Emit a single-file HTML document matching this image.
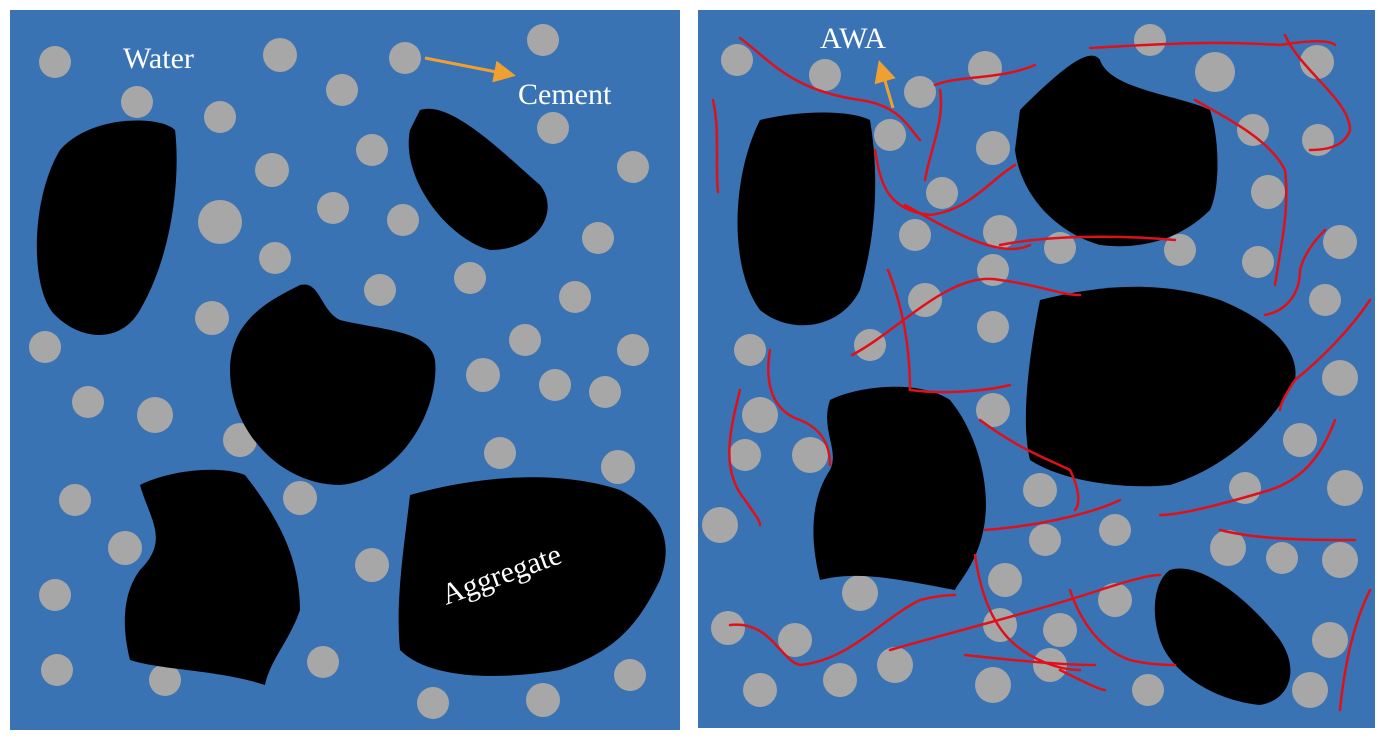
<!DOCTYPE html>
<html><head><meta charset="utf-8"><style>
html,body{margin:0;padding:0;background:#fff;}
svg{display:block;}
text{font-family:"Liberation Serif",serif;fill:#fff;}
</style></head><body>
<svg width="1385" height="741" viewBox="0 0 1385 741" xmlns="http://www.w3.org/2000/svg">
<defs><marker id="ar" markerWidth="8" markerHeight="8" refX="4" refY="4" orient="auto" markerUnits="userSpaceOnUse" viewBox="0 0 8 8"><path d="M0,0 L8,4 L0,8Z" fill="#f0a030"/></marker>
<marker id="ah" markerWidth="22" markerHeight="22" refX="18" refY="11" orient="auto" markerUnits="userSpaceOnUse"><path d="M0,0 L22,11 L0,22Z" fill="#f0a030"/></marker></defs>
<rect x="10" y="10" width="670" height="720" fill="#3a73b3"/>
<rect x="698" y="10" width="677" height="718" fill="#3a73b3"/>
<g fill="#a7a7a7">
<circle cx="55" cy="62" r="16"/><circle cx="280" cy="55" r="17"/><circle cx="405" cy="58" r="16"/><circle cx="543" cy="40" r="16"/><circle cx="137" cy="102" r="16"/><circle cx="220" cy="117" r="16"/><circle cx="342" cy="90" r="16"/><circle cx="553" cy="128" r="16"/><circle cx="372" cy="150" r="16"/><circle cx="272" cy="170" r="17"/><circle cx="633" cy="167" r="16"/><circle cx="220" cy="222" r="22"/><circle cx="333" cy="208" r="16"/><circle cx="403" cy="220" r="16"/><circle cx="598" cy="238" r="16"/><circle cx="275" cy="258" r="16"/><circle cx="380" cy="290" r="16"/><circle cx="470" cy="278" r="16"/><circle cx="575" cy="297" r="16"/><circle cx="212" cy="318" r="17"/><circle cx="45" cy="347" r="16"/><circle cx="525" cy="340" r="16"/><circle cx="633" cy="350" r="16"/><circle cx="483" cy="375" r="17"/><circle cx="555" cy="385" r="16"/><circle cx="605" cy="392" r="16"/><circle cx="88" cy="402" r="16"/><circle cx="155" cy="415" r="18"/><circle cx="240" cy="440" r="17"/><circle cx="500" cy="453" r="16"/><circle cx="618" cy="467" r="17"/><circle cx="75" cy="500" r="16"/><circle cx="300" cy="498" r="17"/><circle cx="125" cy="548" r="17"/><circle cx="372" cy="565" r="17"/><circle cx="55" cy="595" r="16"/><circle cx="57" cy="670" r="16"/><circle cx="165" cy="680" r="16"/><circle cx="323" cy="662" r="16"/><circle cx="433" cy="703" r="16"/><circle cx="543" cy="700" r="17"/><circle cx="630" cy="675" r="16"/>
<circle cx="737" cy="60" r="16"/><circle cx="825" cy="75" r="16"/><circle cx="920" cy="92" r="16"/><circle cx="985" cy="68" r="17"/><circle cx="1150" cy="40" r="16"/><circle cx="1215" cy="72" r="20"/><circle cx="1317" cy="62" r="17"/><circle cx="890" cy="135" r="16"/><circle cx="993" cy="148" r="17"/><circle cx="1253" cy="130" r="16"/><circle cx="1318" cy="140" r="16"/><circle cx="942" cy="193" r="16"/><circle cx="1268" cy="192" r="17"/><circle cx="915" cy="235" r="16"/><circle cx="1000" cy="232" r="17"/><circle cx="1060" cy="248" r="16"/><circle cx="1180" cy="250" r="16"/><circle cx="1258" cy="262" r="16"/><circle cx="1340" cy="242" r="17"/><circle cx="993" cy="270" r="16"/><circle cx="925" cy="300" r="17"/><circle cx="1325" cy="300" r="16"/><circle cx="870" cy="345" r="16"/><circle cx="750" cy="350" r="16"/><circle cx="993" cy="327" r="16"/><circle cx="1340" cy="378" r="18"/><circle cx="993" cy="410" r="17"/><circle cx="760" cy="415" r="18"/><circle cx="745" cy="455" r="16"/><circle cx="810" cy="455" r="18"/><circle cx="1300" cy="440" r="17"/><circle cx="1040" cy="490" r="17"/><circle cx="1245" cy="488" r="16"/><circle cx="1345" cy="488" r="18"/><circle cx="720" cy="525" r="18"/><circle cx="1115" cy="530" r="16"/><circle cx="1228" cy="548" r="18"/><circle cx="1282" cy="558" r="16"/><circle cx="1340" cy="560" r="18"/><circle cx="1045" cy="540" r="16"/><circle cx="860" cy="593" r="18"/><circle cx="1005" cy="580" r="17"/><circle cx="1115" cy="600" r="17"/><circle cx="728" cy="628" r="17"/><circle cx="795" cy="640" r="17"/><circle cx="1000" cy="625" r="17"/><circle cx="1060" cy="630" r="17"/><circle cx="1330" cy="640" r="18"/><circle cx="895" cy="665" r="18"/><circle cx="1050" cy="665" r="17"/><circle cx="760" cy="690" r="17"/><circle cx="840" cy="680" r="17"/><circle cx="993" cy="685" r="18"/><circle cx="1148" cy="690" r="16"/><circle cx="1310" cy="690" r="18"/>
</g>
<g fill="#000">
<path d="M60,150 C90,115 160,115 175,130 C180,170 175,250 140,310 C120,345 80,340 55,315 C30,290 30,200 60,150Z"/>
<path d="M420,110 C450,100 500,150 540,185 C560,210 540,250 490,250 C450,240 400,180 410,130Z"/>
<path d="M300,285 C320,280 320,310 340,320 C380,330 430,330 435,360 C440,410 400,480 340,485 C280,485 230,430 230,370 C230,320 270,300 300,285Z"/>
<path d="M140,485 C170,470 220,465 245,475 C280,520 300,560 300,610 C290,640 270,660 265,685 C220,670 160,670 130,660 C120,620 125,590 140,570 C170,540 150,520 140,485Z"/>
<path d="M410,495 C480,475 560,470 620,490 C660,510 675,540 660,580 C640,620 620,650 560,670 C500,680 430,680 400,650 C395,600 405,540 410,495Z"/>
<path d="M760,120 C800,110 850,110 870,120 C880,180 875,240 860,290 C840,330 790,335 760,310 C730,270 730,180 760,120Z"/>
<path d="M1020,110 C1060,70 1090,45 1100,60 C1110,90 1180,95 1210,110 C1220,140 1220,190 1210,210 C1180,240 1140,250 1100,245 C1050,230 1020,190 1015,150Z"/>
<path d="M1040,300 C1100,285 1160,280 1220,300 C1270,320 1300,350 1295,380 C1270,430 1220,470 1170,485 C1120,490 1060,480 1030,460 C1020,420 1030,350 1040,300Z"/>
<path d="M830,400 C860,385 920,380 950,400 C975,430 990,480 985,520 C980,560 960,580 955,590 C900,580 860,570 820,580 C810,540 810,500 830,470 C840,450 820,430 830,400Z"/>
<path d="M1170,570 C1200,560 1250,600 1280,640 C1300,670 1290,700 1260,705 C1210,700 1170,670 1160,640 C1150,610 1155,580 1170,570Z"/>
</g>
<g fill="none" stroke="#e0101a" stroke-width="2.5" stroke-linecap="round">
<path d="M740,38 C770,60 790,90 860,100 C900,105 910,130 920,140"/>
<path d="M713,100 C720,130 715,170 718,192"/>
<path d="M875,150 C880,180 885,210 930,215 C970,210 990,180 1015,165"/>
<path d="M935,85 C960,75 1000,80 1035,65"/>
<path d="M1090,48 C1150,45 1200,40 1280,45 C1310,40 1330,40 1335,45"/>
<path d="M1285,35 C1300,70 1350,100 1350,130 C1345,145 1330,150 1310,150"/>
<path d="M1195,100 C1230,120 1270,140 1285,170 C1290,210 1280,250 1275,285"/>
<path d="M940,90 C945,120 930,150 925,180"/>
<path d="M1000,245 C1050,235 1120,235 1175,240"/>
<path d="M905,205 C950,230 1000,260 1030,245"/>
<path d="M888,270 C900,300 910,340 910,390 C950,395 990,390 1010,385"/>
<path d="M852,355 C900,330 950,270 1000,280 C1040,285 1060,295 1080,295"/>
<path d="M770,350 C765,380 770,410 800,420 C825,430 830,450 830,465"/>
<path d="M740,390 C730,430 720,470 745,500 C755,515 760,520 760,525"/>
<path d="M1265,315 C1290,310 1300,290 1300,270 C1305,250 1320,235 1325,230"/>
<path d="M1370,300 C1350,330 1320,360 1295,380 C1285,395 1280,405 1280,410"/>
<path d="M1335,420 C1320,460 1300,480 1270,490 C1220,505 1180,515 1160,515"/>
<path d="M980,420 C1020,450 1050,460 1070,470 C1080,490 1080,505 1075,510"/>
<path d="M985,530 C1050,525 1100,510 1120,500"/>
<path d="M1220,530 C1260,540 1310,540 1355,540"/>
<path d="M1370,590 C1355,620 1345,660 1340,710"/>
<path d="M730,625 C770,620 780,660 800,665 C850,660 880,620 920,600 C940,595 950,595 955,595"/>
<path d="M975,555 C980,590 990,620 1010,640 C1030,660 1060,670 1080,670"/>
<path d="M890,650 C960,630 1040,610 1100,590 C1130,580 1150,575 1160,575"/>
<path d="M1070,590 C1080,620 1100,650 1130,660 C1150,665 1170,665 1175,665"/>
<path d="M965,655 C1010,660 1060,665 1095,665"/>
<path d="M1060,670 C1080,680 1100,690 1105,690"/>
</g>
<line x1="425" y1="58" x2="512" y2="75" stroke="#f0a030" stroke-width="3" marker-end="url(#ah)"/>
<line x1="893" y1="108" x2="880" y2="64" stroke="#f0a030" stroke-width="3" marker-end="url(#ah)"/>
<text x="123" y="68" font-size="30">Water</text>
<text x="518" y="104" font-size="30">Cement</text>
<text x="820" y="48" font-size="30">AWA</text>
<text x="0" y="0" font-size="30" transform="translate(446,605) rotate(-20)">Aggregate</text>
</svg>
</body></html>
